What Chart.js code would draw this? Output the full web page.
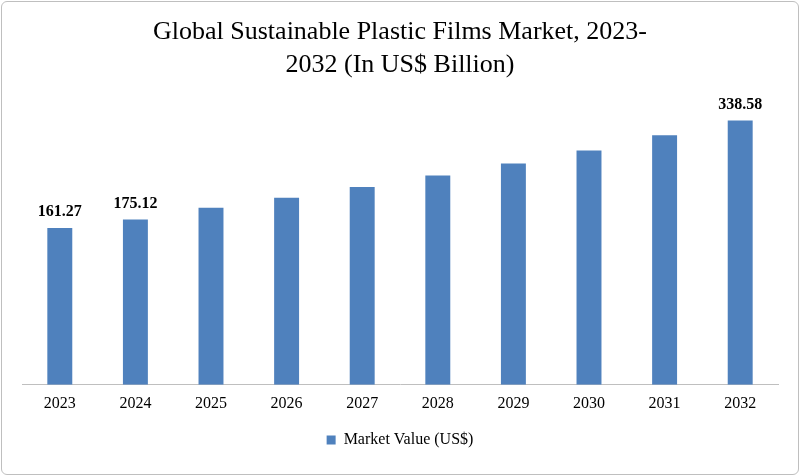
<!DOCTYPE html>
<html>
<head>
<meta charset="utf-8">
<script src="https://cdn.jsdelivr.net/npm/chart.js@4"></script>
<style>
  body { margin: 0; background: #fff; }
  #wrap { position: absolute; left: 1px; top: 1px; width: 796px; height: 472px; border: 1px solid #bfbfbf; border-radius: 6px; }
</style>
</head>
<body>
<div id="wrap"><canvas id="chart"></canvas></div>
<script>
const years = ['2023', '2024', '2025', '2026', '2027', '2028', '2029', '2030', '2031', '2032']
const marketValue = [161.27, 175.12, 194.6, 211.0, 229.0, 247.7, 267.5, 289.0, 314.0, 338.58]
const labelled = ['161.27', '175.12', '', '', '', '', '', '', '', '338.58']
const axisFloor = -97

// etiquetas de valor sobre las barras
const valueLabels = {
  id: 'valueLabels',
  afterDatasetsDraw(chart) {
    const ctx = chart.ctx
    const meta = chart.getDatasetMeta(0)
    ctx.save()
    ctx.font = 'bold 16px "Liberation Serif"'
    ctx.fillStyle = '#000'
    ctx.textAlign = 'center'
    ctx.textBaseline = 'bottom'
    meta.data.forEach((bar, i) => {
      if (labelled[i]) ctx.fillText(labelled[i], bar.x, bar.y - 8)
    })
    ctx.restore()
  }
}

new Chart(document.getElementById('chart'), {
  type: 'bar',
  data: {
    labels: years,
    datasets: [{
      label: 'Market Value (US$)',
      data: marketValue,
      base: axisFloor,
      backgroundColor: '#4f81bd',
      categoryPercentage: 1,
      barPercentage: 0.33
    }]
  },
  options: {
    responsive: true,
    maintainAspectRatio: false,
    animation: false,
    layout: { padding: { left: 20, right: 20, top: 0, bottom: 16 } },
    plugins: {
      title: {
        display: true,
        text: ['Global Sustainable Plastic Films Market, 2023-', '2032 (In US$ Billion)'],
        color: '#000',
        font: { family: 'Liberation Serif', size: 26, weight: 'normal', lineHeight: 1.25 },
        padding: { top: 14, bottom: 10 }
      },
      legend: {
        position: 'bottom',
        labels: { color: '#000', boxWidth: 9, boxHeight: 9, font: { family: 'Liberation Serif', size: 16 } }
      },
      tooltip: { enabled: false }
    },
    scales: {
      x: {
        grid: { display: false, drawTicks: false },
        border: { color: '#bfbfbf' },
        ticks: { color: '#000', padding: 9, font: { family: 'Liberation Serif', size: 16 } }
      },
      y: { display: false, min: axisFloor, max: 387 }
    }
  },
  plugins: [valueLabels]
})
</script>
</body>
</html>
